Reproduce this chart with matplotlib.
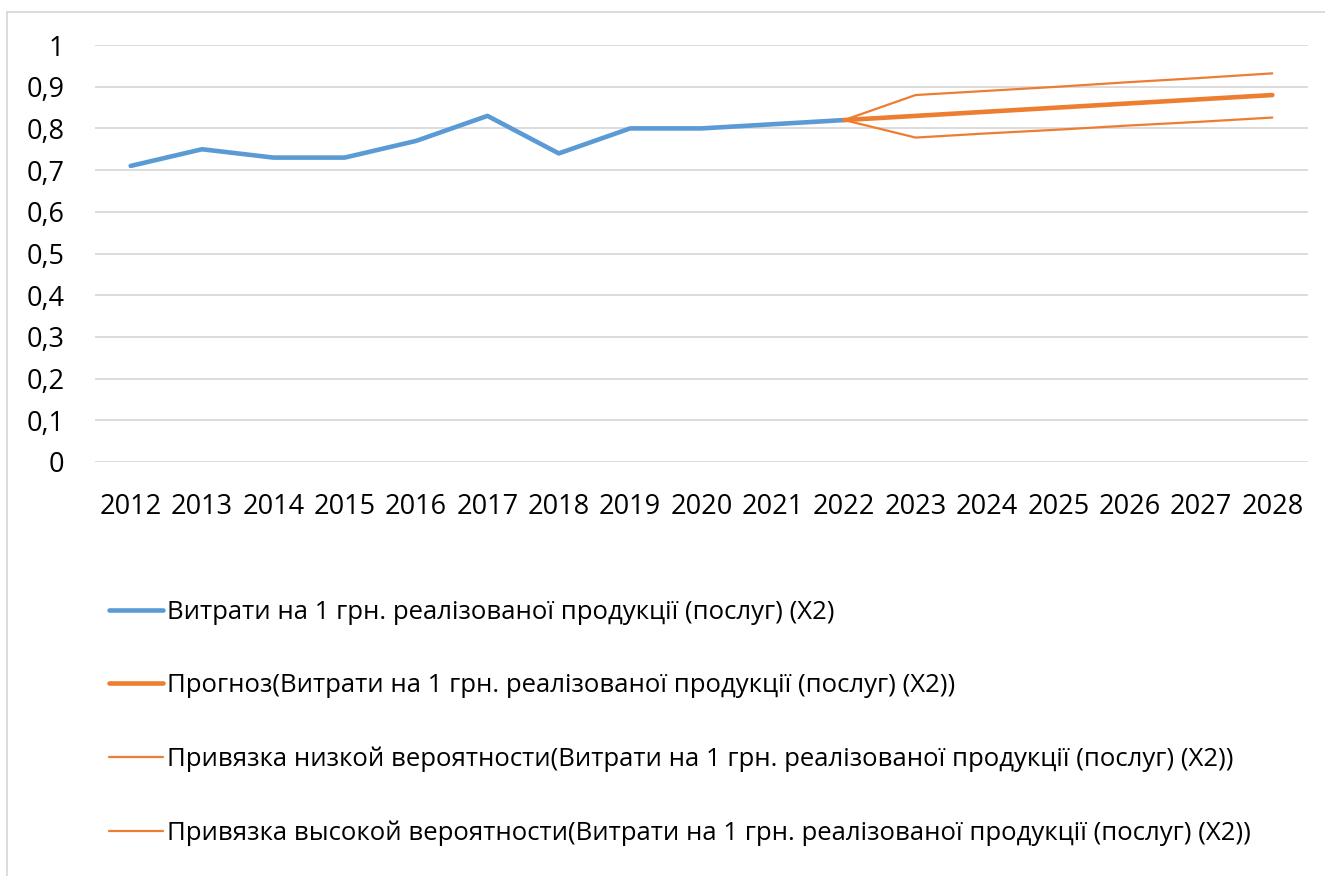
import matplotlib.pyplot as plt
from matplotlib.lines import Line2D
from matplotlib.ticker import FuncFormatter

years = list(range(2012, 2029))
fact_years = list(range(2012, 2023))
fact = [0.71, 0.75, 0.73, 0.73, 0.77, 0.83, 0.74, 0.80, 0.80, 0.81, 0.82]
fc_years = list(range(2022, 2029))
forecast = [0.82, 0.83, 0.84, 0.85, 0.86, 0.87, 0.88]
low = [0.82, 0.778, 0.788, 0.797, 0.807, 0.816, 0.826]
high = [0.82, 0.880, 0.890, 0.900, 0.911, 0.921, 0.932]

labels = [
    "Витрати на 1 грн. реалізованої продукції (послуг) (X2)",
    "Прогноз(Витрати на 1 грн. реалізованої продукції (послуг) (X2))",
    "Привязка низкой вероятности(Витрати на 1 грн. реалізованої продукції (послуг) (X2))",
    "Привязка высокой вероятности(Витрати на 1 грн. реалізованої продукції (послуг) (X2))",
]

BLUE = "#5B9BD5"
ORANGE = "#ED7D31"
GRID = "#D9D9D9"
FS = 19.5

plt.rcParams["font.family"] = ["Open Sans", "DejaVu Sans"]

W, H = 1325, 876
fig = plt.figure(figsize=(W / 100, H / 100), dpi=100)
ax = fig.add_axes([95 / W, 1 - 462 / H, (1308 - 95) / W, (462 - 45) / H])

idx = {y: i for i, y in enumerate(years)}
l1, = ax.plot([idx[y] for y in fact_years], fact, color=BLUE, lw=3.3,
              solid_capstyle="round", solid_joinstyle="round")
l2, = ax.plot([idx[y] for y in fc_years], forecast, color=ORANGE, lw=3.3,
              solid_capstyle="round", solid_joinstyle="round")
l3, = ax.plot([idx[y] for y in fc_years], low, color=ORANGE, lw=1.6,
              solid_capstyle="round")
l4, = ax.plot([idx[y] for y in fc_years], high, color=ORANGE, lw=1.6,
              solid_capstyle="round")

ax.set_xlim(-0.5, len(years) - 0.5)
ax.set_ylim(0, 1)
ax.set_yticks([i / 10 for i in range(11)])
ax.yaxis.set_major_formatter(FuncFormatter(
    lambda v, p: "0" if v == 0 else ("1" if abs(v - 1) < 1e-9 else f"{v:.1f}".replace(".", ","))))
ax.set_xticks(range(len(years)))
ax.set_xticklabels([str(y) for y in years])
ax.tick_params(axis="both", length=0, labelsize=FS, colors="black")
ax.tick_params(axis="y", pad=22)
ax.tick_params(axis="x", pad=22)
ax.grid(axis="y", color=GRID, lw=1.3)
ax.set_axisbelow(True)
for s in ax.spines.values():
    s.set_visible(False)

fig.legend([l1, l2, l3, l4], labels, loc="upper left",
           bbox_to_anchor=(109 / W, 1 - 600 / H), frameon=False,
           fontsize=FS * 0.95, handlelength=2.1, handletextpad=0.15,
           labelspacing=1.88, borderpad=0, borderaxespad=0)

# outer chart border (cropped at right and bottom)
fig.add_artist(Line2D([7 / W, 1.0], [1 - 12 / H, 1 - 12 / H], color=GRID, lw=1.3))
fig.add_artist(Line2D([7 / W, 7 / W], [0, 1 - 12 / H], color=GRID, lw=1.3))

fig.savefig("out.png", dpi=100)
